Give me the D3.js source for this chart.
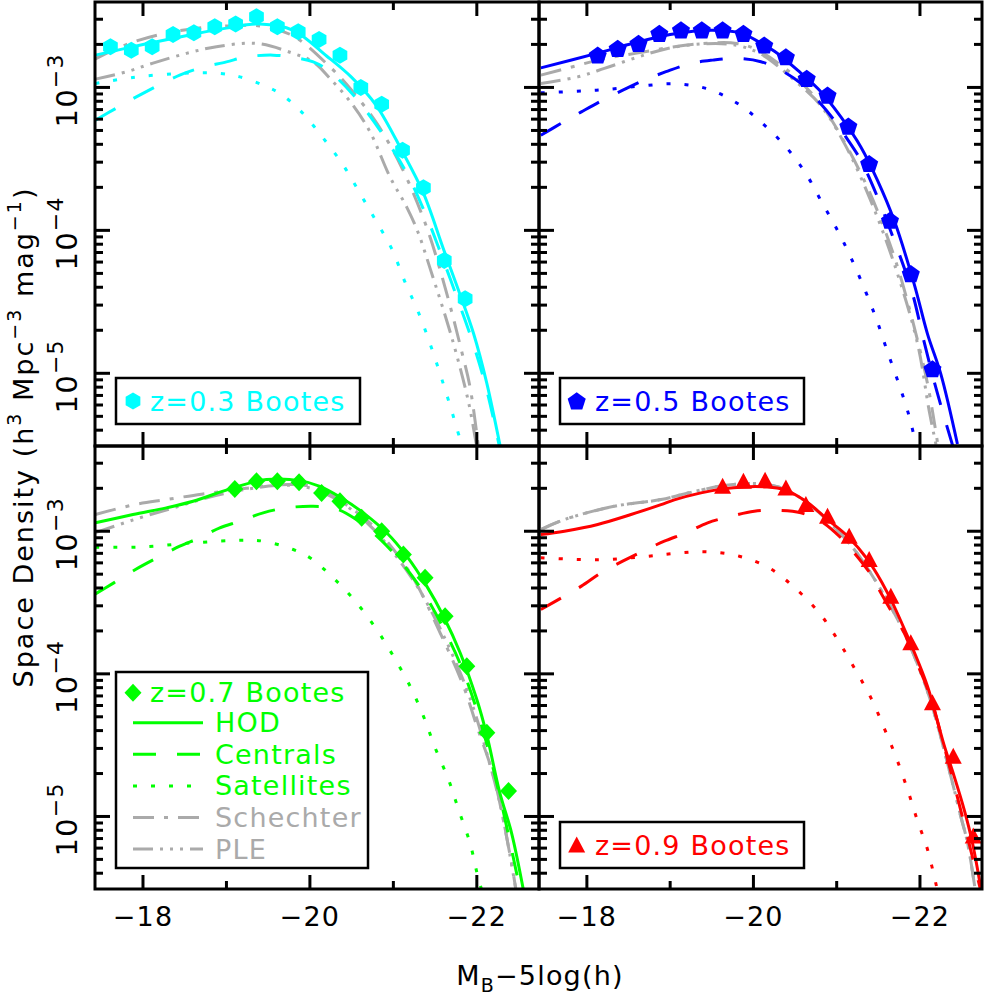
<!DOCTYPE html>
<html><head><meta charset="utf-8">
<script src="https://cdn.jsdelivr.net/npm/d3@7"></script>
<style>body{margin:0;background:#fff}text{font-family:"DejaVu Sans",sans-serif;letter-spacing:1.2px}</style>
</head><body><svg id="c" width="984" height="996"></svg>
<script>
// ---------- data (M_B - 5log h, log10 space density) ----------
const xTicks = [-18, -19, -20, -21, -22];
const xTickLabels = [-18, -20, -22];
const yTickExp = [-3, -4, -5];

const z03M = [-17.61,-17.86,-18.11,-18.36,-18.61,-18.86,-19.11,-19.36,-19.61,-19.86,-20.11,-20.36,-20.61,-20.86,-21.11,-21.36,-21.61,-21.86];
const z03L = [-2.715,-2.739,-2.715,-2.629,-2.617,-2.575,-2.556,-2.505,-2.575,-2.610,-2.664,-2.774,-3.0,-3.117,-3.439,-3.701,-4.21,-4.479];
const z05M = [-18.13,-18.37,-18.62,-18.87,-19.13,-19.38,-19.63,-19.88,-20.13,-20.39,-20.64,-20.89,-21.14,-21.39,-21.64,-21.89,-22.15];
const z05L = [-2.774,-2.727,-2.692,-2.622,-2.598,-2.598,-2.598,-2.622,-2.704,-2.786,-2.937,-3.054,-3.271,-3.533,-3.93,-4.303,-4.969];
const z07M = [-19.10,-19.36,-19.61,-19.87,-20.14,-20.36,-20.62,-20.86,-21.12,-21.38,-21.62,-21.88,-22.12,-22.38];
const z07L = [-2.703,-2.650,-2.650,-2.657,-2.731,-2.790,-2.906,-3.0,-3.163,-3.327,-3.596,-3.946,-4.413,-4.822];
const z09M = [-19.63,-19.88,-20.14,-20.39,-20.63,-20.89,-21.15,-21.39,-21.65,-21.89,-22.15,-22.40,-22.64];
const z09L = [-2.685,-2.65,-2.643,-2.696,-2.813,-2.895,-3.035,-3.198,-3.455,-3.782,-4.203,-4.577,-5.137];

const hod03 = [[-17.43,-2.774],[-18.0,-2.70],[-18.5,-2.64],[-19.0,-2.585],[-19.4,-2.556],[-19.8,-2.60],[-20.2,-2.78],[-20.5,-2.93],[-20.8,-3.13],[-21.1,-3.44],[-21.36,-3.74],[-21.6,-4.13],[-21.8,-4.45],[-21.96,-4.72],[-22.12,-5.07],[-22.28,-5.51]];
const cen03 = [[-17.43,-3.229],[-17.68,-3.145],[-17.92,-3.066],[-18.44,-2.914],[-18.68,-2.865],[-19.0,-2.821],[-19.24,-2.786],[-19.56,-2.774],[-19.76,-2.786],[-20.04,-2.821],[-20.24,-2.891],[-20.54,-3.066],[-20.88,-3.334],[-21.16,-3.60],[-21.40,-3.907],[-21.54,-4.117],[-21.75,-4.45],[-21.96,-4.80],[-22.12,-5.12],[-22.27,-5.51]];
const sat03 = [[-17.43,-2.972],[-17.88,-2.93],[-18.44,-2.902],[-18.92,-2.902],[-19.16,-2.926],[-19.44,-2.984],[-19.64,-3.042],[-19.88,-3.159],[-20.16,-3.355],[-20.40,-3.545],[-20.60,-3.741],[-20.80,-3.942],[-20.98,-4.128],[-21.14,-4.362],[-21.30,-4.573],[-21.44,-4.794],[-21.56,-5.004],[-21.68,-5.226],[-21.80,-5.46],[-21.84,-5.52]];
const sch03 = [[-17.43,-2.80],[-17.8,-2.70],[-18.2,-2.63],[-18.6,-2.59],[-19.0,-2.57],[-19.4,-2.57],[-19.8,-2.64],[-20.24,-2.856],[-20.5,-3.02],[-20.8,-3.25],[-21.1,-3.56],[-21.4,-3.98],[-21.62,-4.4],[-21.82,-4.85],[-21.92,-5.1],[-22.02,-5.52]];
const ple03 = [[-17.43,-2.942],[-17.80,-2.891],[-18.12,-2.83],[-18.52,-2.762],[-18.88,-2.715],[-19.36,-2.692],[-19.80,-2.762],[-20.04,-2.821],[-20.24,-2.937],[-20.5,-3.112],[-20.72,-3.311],[-20.96,-3.627],[-21.16,-3.837],[-21.30,-4.02],[-21.44,-4.266],[-21.7,-4.75],[-21.9,-5.2],[-22.0,-5.52]];

const hod05 = [[-17.447,-2.863],[-18.13,-2.76],[-18.5,-2.70],[-19.0,-2.63],[-19.5,-2.60],[-19.85,-2.62],[-20.09,-2.69],[-20.29,-2.762],[-20.57,-2.90],[-20.81,-3.03],[-21.05,-3.206],[-21.29,-3.416],[-21.49,-3.65],[-21.69,-3.93],[-21.93,-4.374],[-22.09,-4.724],[-22.25,-5.004],[-22.45,-5.495]];
const cen05 = [[-17.447,-3.335],[-17.695,-3.25],[-17.934,-3.171],[-18.19,-3.089],[-18.45,-3.014],[-18.69,-2.949],[-18.95,-2.89],[-19.25,-2.832],[-19.51,-2.809],[-19.79,-2.797],[-20.09,-2.82],[-20.33,-2.879],[-20.57,-2.972],[-20.77,-3.089],[-20.97,-3.229],[-21.11,-3.346],[-21.29,-3.51],[-21.49,-3.767],[-21.69,-4.07],[-21.9,-4.42],[-22.05,-4.78],[-22.2,-5.12],[-22.4,-5.52]];
const sat05 = [[-17.447,-3.038],[-17.934,-3.025],[-18.254,-3.014],[-18.65,-2.99],[-19.05,-2.975],[-19.43,-3.007],[-19.81,-3.112],[-20.11,-3.252],[-20.39,-3.416],[-20.63,-3.603],[-20.83,-3.813],[-21.01,-4.0],[-21.17,-4.19],[-21.35,-4.432],[-21.49,-4.643],[-21.61,-4.85],[-21.75,-5.08],[-21.87,-5.3],[-21.96,-5.52]];
const sch05 = [[-17.447,-2.914],[-17.8,-2.86],[-18.2,-2.80],[-18.6,-2.76],[-19.0,-2.72],[-19.4,-2.692],[-19.8,-2.692],[-20.05,-2.739],[-20.45,-2.90],[-20.8,-3.11],[-21.1,-3.39],[-21.4,-3.74],[-21.7,-4.2],[-21.95,-4.72],[-22.1,-5.1],[-22.22,-5.52]];
const ple05 = [[-17.447,-2.972],[-17.89,-2.926],[-18.21,-2.867],[-18.6,-2.79],[-18.97,-2.727],[-19.4,-2.695],[-19.8,-2.705],[-20.1,-2.77],[-20.49,-2.949],[-20.8,-3.12],[-21.1,-3.40],[-21.4,-3.78],[-21.7,-4.25],[-21.97,-4.79],[-22.11,-5.26],[-22.2,-5.52]];

const hod07 = [[-17.43,-2.941],[-17.88,-2.883],[-18.28,-2.836],[-18.60,-2.79],[-19.08,-2.696],[-19.48,-2.638],[-19.88,-2.645],[-20.12,-2.685],[-20.36,-2.76],[-20.64,-2.871],[-20.92,-3.011],[-21.16,-3.175],[-21.40,-3.385],[-21.60,-3.596],[-21.80,-3.852],[-22.0,-4.18],[-22.12,-4.43],[-22.275,-4.833],[-22.415,-5.113],[-22.555,-5.506]];
const cen07 = [[-17.43,-3.439],[-17.65,-3.362],[-17.91,-3.268],[-18.17,-3.186],[-18.44,-3.105],[-18.68,-3.046],[-18.92,-2.976],[-19.16,-2.93],[-19.44,-2.871],[-19.72,-2.836],[-20.04,-2.825],[-20.3,-2.84],[-20.56,-2.92],[-20.85,-3.06],[-21.1,-3.22],[-21.35,-3.42],[-21.6,-3.68],[-21.85,-4.0],[-22.1,-4.45],[-22.3,-4.92],[-22.52,-5.52]];
const sat07 = [[-17.43,-3.112],[-18.0,-3.11],[-18.6,-3.081],[-19.24,-3.063],[-19.44,-3.07],[-19.80,-3.128],[-20.0,-3.186],[-20.28,-3.327],[-20.56,-3.502],[-20.80,-3.689],[-21.00,-3.876],[-21.20,-4.086],[-21.36,-4.296],[-21.50,-4.518],[-21.66,-4.74],[-21.78,-4.95],[-21.92,-5.19],[-22.0,-5.39],[-22.06,-5.52]];
const sch07 = [[-17.43,-2.883],[-17.9,-2.813],[-18.28,-2.778],[-18.7,-2.74],[-19.1,-2.71],[-19.5,-2.68],[-19.8,-2.673],[-20.1,-2.696],[-20.4,-2.80],[-20.76,-2.965],[-21.2,-3.292],[-21.56,-3.712],[-21.84,-4.086],[-22.0,-4.367],[-22.2,-4.717],[-22.4,-5.277],[-22.47,-5.52]];
const ple07 = [[-17.43,-3.01],[-17.96,-2.906],[-18.4,-2.83],[-18.8,-2.76],[-19.2,-2.71],[-19.6,-2.68],[-19.95,-2.69],[-20.3,-2.77],[-20.7,-2.95],[-21.0,-3.15],[-21.3,-3.40],[-21.6,-3.73],[-21.9,-4.14],[-22.15,-4.62],[-22.3,-4.97],[-22.47,-5.52]];

const hod09 = [[-17.447,-3.023],[-17.73,-3.0],[-18.13,-2.953],[-18.53,-2.883],[-18.89,-2.813],[-19.05,-2.78],[-19.37,-2.731],[-19.63,-2.703],[-19.89,-2.689],[-20.13,-2.689],[-20.37,-2.708],[-20.63,-2.79],[-20.89,-2.918],[-21.13,-3.035],[-21.37,-3.198],[-21.61,-3.432],[-21.85,-3.736],[-22.09,-4.086],[-22.29,-4.5],[-22.41,-4.717],[-22.53,-4.95],[-22.63,-5.184],[-22.73,-5.50]];
const cen09 = [[-17.447,-3.549],[-17.695,-3.467],[-17.934,-3.385],[-18.17,-3.292],[-18.43,-3.21],[-18.67,-3.14],[-18.93,-3.07],[-19.19,-3.011],[-19.45,-2.941],[-19.73,-2.895],[-20.01,-2.86],[-20.27,-2.853],[-20.57,-2.871],[-20.81,-2.93],[-21.05,-3.046],[-21.21,-3.151],[-21.41,-3.303],[-21.53,-3.432],[-21.69,-3.596],[-21.81,-3.712],[-21.91,-3.852],[-22.1,-4.12],[-22.3,-4.53],[-22.5,-4.98],[-22.73,-5.52]];
const sat09 = [[-17.447,-3.186],[-18.134,-3.2],[-18.653,-3.18],[-19.05,-3.156],[-19.43,-3.144],[-19.83,-3.175],[-20.19,-3.257],[-20.51,-3.404],[-20.79,-3.572],[-21.01,-3.759],[-21.21,-3.957],[-21.41,-4.167],[-21.57,-4.38],[-21.71,-4.58],[-21.85,-4.81],[-21.97,-5.03],[-22.09,-5.23],[-22.21,-5.52]];
const sch09 = [[-17.447,-2.988],[-17.73,-2.918],[-18.33,-2.825],[-18.89,-2.778],[-19.3,-2.72],[-19.65,-2.68],[-20.0,-2.665],[-20.3,-2.69],[-20.6,-2.78],[-20.9,-2.93],[-21.2,-3.12],[-21.5,-3.38],[-21.8,-3.70],[-22.1,-4.14],[-22.38,-4.74],[-22.49,-5.0],[-22.57,-5.18],[-22.66,-5.5]];
const ple09 = [[-17.447,-2.988],[-17.73,-2.918],[-18.33,-2.825],[-18.89,-2.778],[-19.3,-2.72],[-19.65,-2.68],[-20.0,-2.665],[-20.3,-2.69],[-20.6,-2.78],[-20.9,-2.93],[-21.2,-3.12],[-21.5,-3.38],[-21.8,-3.70],[-22.1,-4.14],[-22.38,-4.74],[-22.49,-5.0],[-22.57,-5.18],[-22.66,-5.5]];

const legendNames = ["HOD","Centrals","Satellites","Schechter","PLE"];

// ---------- layout ----------
const panelsX = [[95,539],[539,982]];
const panelsY = [[2,446],[446,889]];
const magDomain = [-17.425,-22.745];
const phiDomain = [3.1e-6,3.96e-3];
const GRAY = "#aaaaaa";
const DASH = {hod:null, cen:"23,21", sat:"4,14", sch:"21,10,4,10", ple:"20,7,3,7,3,7,3,7"};

const panels = [
  {col:0,row:0,color:"#00ffff",marker:"hex",M:z03M,L:z03L,hod:hod03,cen:cen03,sat:sat03,sch:sch03,ple:ple03,label:"z=0.3 Bootes",box:[116,378,360,424]},
  {col:1,row:0,color:"#0000ff",marker:"pent",M:z05M,L:z05L,hod:hod05,cen:cen05,sat:sat05,sch:sch05,ple:ple05,label:"z=0.5 Bootes",box:[560,378,804,424]},
  {col:0,row:1,color:"#00ff00",marker:"diam",M:z07M,L:z07L,hod:hod07,cen:cen07,sat:sat07,sch:sch07,ple:ple07,label:"z=0.7 Bootes",box:[116,672,368,868],full:true},
  {col:1,row:1,color:"#ff0000",marker:"tri",M:z09M,L:z09L,hod:hod09,cen:cen09,sat:sat09,sch:sch09,ple:ple09,label:"z=0.9 Bootes",box:[560,822,804,868]}
];

function markerPath(type){
  const p=[];
  if(type==="hex"){for(let k=0;k<6;k++){const a=(-90+60*k)*Math.PI/180;p.push([8.5*Math.cos(a),8.5*Math.sin(a)]);}}
  else if(type==="pent"){for(let k=0;k<5;k++){const a=(-90+72*k)*Math.PI/180;p.push([9.5*Math.cos(a),9.5*Math.sin(a)+0.8]);}}
  else if(type==="diam"){p.push([0,-9],[8.5,0],[0,9],[-8.5,0]);}
  else {p.push([0,-8.5],[8.5,7.5],[-8.5,7.5]);}
  return "M"+p.map(d=>d[0].toFixed(2)+","+d[1].toFixed(2)).join("L")+"Z";
}

const svg = d3.select("#c");
const defs = svg.append("defs");

panels.forEach((p,i)=>{
  const [x0,x1]=panelsX[p.col], [y0,y1]=panelsY[p.row];
  const x=d3.scaleLinear().domain(magDomain).range([x0,x1]);
  const y=d3.scaleLog().domain(phiDomain).range([y1,y0]);
  defs.append("clipPath").attr("id","clip"+i).append("rect").attr("x",x0).attr("y",y0).attr("width",x1-x0).attr("height",y1-y0);
  const g=svg.append("g").attr("clip-path",`url(#clip${i})`);
  const line=d3.line().x(d=>x(d[0])).y(d=>y(Math.pow(10,d[1]))).curve(d3.curveCatmullRom.alpha(0.5));
  const curves=[["ple",GRAY],["sch",GRAY],["sat",p.color],["cen",p.color],["hod",p.color]];
  curves.forEach(([k,c])=>{
    g.append("path").attr("d",line(p[k])).attr("fill","none").attr("stroke",c).attr("stroke-width",3)
      .attr("stroke-dasharray",DASH[k]);
  });
  const mp=markerPath(p.marker);
  svg.append("g").selectAll("path").data(p.M.map((m,j)=>[m,p.L[j]])).join("path")
    .attr("d",mp).attr("transform",d=>`translate(${x(d[0])},${y(Math.pow(10,d[1]))})`).attr("fill",p.color);

  const tk=svg.append("g").attr("stroke","#000").attr("stroke-width",3);
  xTicks.forEach(t=>{
    const len = xTickLabels.includes(t)?14:8, xx=x(t);
    tk.append("line").attr("x1",xx).attr("x2",xx).attr("y1",y0).attr("y2",y0+len);
    tk.append("line").attr("x1",xx).attr("x2",xx).attr("y1",y1).attr("y2",y1-len);
  });
  y.ticks().forEach(t=>{
    const e=Math.log10(t), major=Math.abs(e-Math.round(e))<1e-9, len=major?15:8, yy=y(t);
    if(yy<y0+1||yy>y1-1) return;
    tk.append("line").attr("x1",x0).attr("x2",x0+len).attr("y1",yy).attr("y2",yy);
    tk.append("line").attr("x1",x1).attr("x2",x1-len).attr("y1",yy).attr("y2",yy);
  });
  svg.append("rect").attr("x",x0).attr("y",y0).attr("width",x1-x0).attr("height",y1-y0)
    .attr("fill","none").attr("stroke","#000").attr("stroke-width",3);

  if(p.row===1){
    xTickLabels.forEach(t=>{
      svg.append("text").attr("x",x(t)).attr("y",926).attr("text-anchor","middle").attr("font-size",27)
        .text("\u2212"+Math.abs(t));
    });
  }
  if(p.col===0){
    yTickExp.forEach(e=>{
      const t=svg.append("text").attr("transform",`translate(77,${y(Math.pow(10,e))+3}) rotate(-90)`)
        .attr("text-anchor","middle").attr("font-size",29);
      t.append("tspan").text("10");
      t.append("tspan").attr("dy",-14).attr("font-size",22).text("\u2212"+Math.abs(e));
    });
  }

  const [bx0,by0,bx1,by1]=p.box;
  const lg=svg.append("g");
  lg.append("rect").attr("x",bx0).attr("y",by0).attr("width",bx1-bx0).attr("height",by1-by0)
    .attr("fill","#fff").attr("stroke","#000").attr("stroke-width",2.5);
  const mx = p.col===0?133:576.7, tx = p.col===0?150:595;
  const my = (by0+by1)/2 + (p.full? -(by1-by0)/2+20.7 : 0);
  lg.append("path").attr("d",mp).attr("transform",`translate(${mx},${my})`).attr("fill",p.color);
  lg.append("text").attr("x",tx).attr("y",my+9.5).attr("font-size",27).attr("fill",p.color).text(p.label);
  if(p.full){
    const keys=["hod","cen","sat","sch","ple"];
    keys.forEach((k,j)=>{
      const ly = my + 30 + j*31.6;
      const c = (k==="sch"||k==="ple")?GRAY:p.color;
      lg.append("line").attr("x1",133).attr("x2",203).attr("y1",ly).attr("y2",ly)
        .attr("stroke",c).attr("stroke-width",3).attr("stroke-dasharray",DASH[k]);
      lg.append("text").attr("x",215).attr("y",ly+9.5).attr("font-size",27).attr("fill",c).text(legendNames[j]);
    });
  }
});

const xt=svg.append("text").attr("x",540).attr("y",985).attr("text-anchor","middle").attr("font-size",27);
xt.append("tspan").text("M");
xt.append("tspan").attr("dy",7).attr("font-size",19).text("B");
xt.append("tspan").attr("dy",-7).text("\u22125log(h)");

const yt=svg.append("text").attr("transform","translate(33,437) rotate(-90)").attr("text-anchor","middle").attr("font-size",27)
  .style("letter-spacing","2px");
yt.append("tspan").text("Space Density (h");
yt.append("tspan").attr("dy",-12).attr("font-size",19).text("3");
yt.append("tspan").attr("dy",12).text(" Mpc");
yt.append("tspan").attr("dy",-12).attr("font-size",19).text("\u22123");
yt.append("tspan").attr("dy",12).text(" mag");
yt.append("tspan").attr("dy",-12).attr("font-size",19).text("\u22121");
yt.append("tspan").attr("dy",12).text(")");
</script></body></html>
